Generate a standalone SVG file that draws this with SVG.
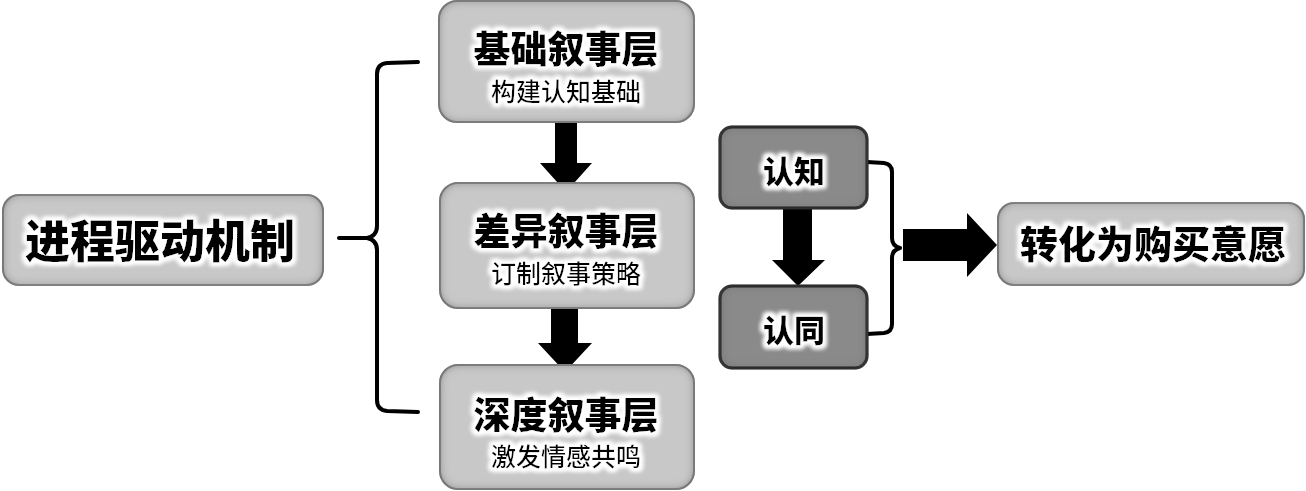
<svg xmlns="http://www.w3.org/2000/svg" width="1306" height="491" viewBox="0 0 1306 491">
<defs>
<filter id="inset" x="-5%" y="-5%" width="110%" height="110%">
<feComponentTransfer in="SourceAlpha" result="inv"><feFuncA type="table" tableValues="1 0"/></feComponentTransfer>
<feGaussianBlur in="inv" stdDeviation="5" result="blur"/>
<feFlood flood-color="#505050" flood-opacity="0.9"/>
<feComposite in2="blur" operator="in" result="shadow"/>
<feComposite in="shadow" in2="SourceAlpha" operator="in" result="ishadow"/>
<feMerge><feMergeNode in="SourceGraphic"/><feMergeNode in="ishadow"/></feMerge>
</filter>
<filter id="glow" x="-10%" y="-30%" width="120%" height="160%">
<feMorphology in="SourceAlpha" operator="dilate" radius="3" result="d"/>
<feGaussianBlur in="d" stdDeviation="2" result="b"/>
<feFlood flood-color="#ffffff"/>
<feComposite in2="b" operator="in" result="w"/>
<feMerge><feMergeNode in="w"/><feMergeNode in="w"/><feMergeNode in="SourceGraphic"/></feMerge>
</filter>
</defs>
<style>
.light{fill:#c8c8c8;stroke:#8c8c8c;stroke-width:2;filter:url(#inset)}
.dark{fill:#8a8a8a;stroke:#1a1a1a;stroke-width:3;filter:url(#inset)}
text{font-family:"Noto Sans CJK SC","Noto Sans CJK JP",sans-serif;fill:#000;text-anchor:middle;filter:url(#glow)}
.t{font-weight:900}
.s{font-weight:500;font-size:25px}
.brace{fill:none;stroke:#000;stroke-width:4;stroke-linecap:round;stroke-linejoin:round}
.arrow{fill:#000}
</style>
<rect width="1306" height="491" fill="#fff"/>
<g id="connectors">
<path class="brace" d="M418,62 L387,63 Q377,64 377,74 L377,226 Q377,236 367,238 L339,238 M367,238 Q377,240 377,250 L377,400 Q377,410 387,411 L418,412"/>
<path class="brace" d="M867,162 L884,163 Q892,164 892,172 L892,238 Q892,246 900,248 M900,248 Q892,250 892,258 L892,324 Q892,332 884,333 L867,334"/>
<polygon class="arrow" points="555,122 577,122 577,163 592,163 566,192 540,163 555,163"/>
<polygon class="arrow" points="551,306 578,306 578,343 592,343 565,372 538,343 551,343"/>
<polygon class="arrow" points="783,208 812,208 812,260 825,260 798,286 772,260 783,260"/>
<polygon class="arrow" points="903,229 967,229 967,213 997,245 967,277 967,261 903,261"/>
</g>
<g id="node-jincheng">
<rect class="light" x="3" y="195" width="320" height="90" rx="16"/>
<text class="t" x="160" y="258" font-size="45">进程驱动机制</text>
</g>
<g id="node-jichu">
<rect class="light" x="439" y="1" width="255" height="121" rx="18"/>
<text class="t" x="566" y="63" font-size="37">基础叙事层</text>
<text class="s" x="566" y="101">构建认知基础</text>
</g>
<g id="node-chayi">
<rect class="light" x="440" y="183" width="254" height="125" rx="18"/>
<text class="t" x="566" y="245" font-size="37">差异叙事层</text>
<text class="s" x="566" y="283">订制叙事策略</text>
</g>
<g id="node-shendu">
<rect class="light" x="440" y="365" width="254" height="124" rx="18"/>
<text class="t" x="566" y="429" font-size="37">深度叙事层</text>
<text class="s" x="566" y="466">激发情感共鸣</text>
</g>
<g id="node-renzhi">
<rect class="dark" x="720" y="127" width="147" height="81" rx="12"/>
<text class="t" x="794" y="183" font-size="31">认知</text>
</g>
<g id="node-rentong">
<rect class="dark" x="720" y="286" width="147" height="82" rx="12"/>
<text class="t" x="794" y="342" font-size="31">认同</text>
</g>
<g id="node-goumai">
<rect class="light" x="998" y="203" width="306" height="82" rx="16"/>
<text class="t" x="1153" y="258" font-size="38">转化为购买意愿</text>
</g>
</svg>
